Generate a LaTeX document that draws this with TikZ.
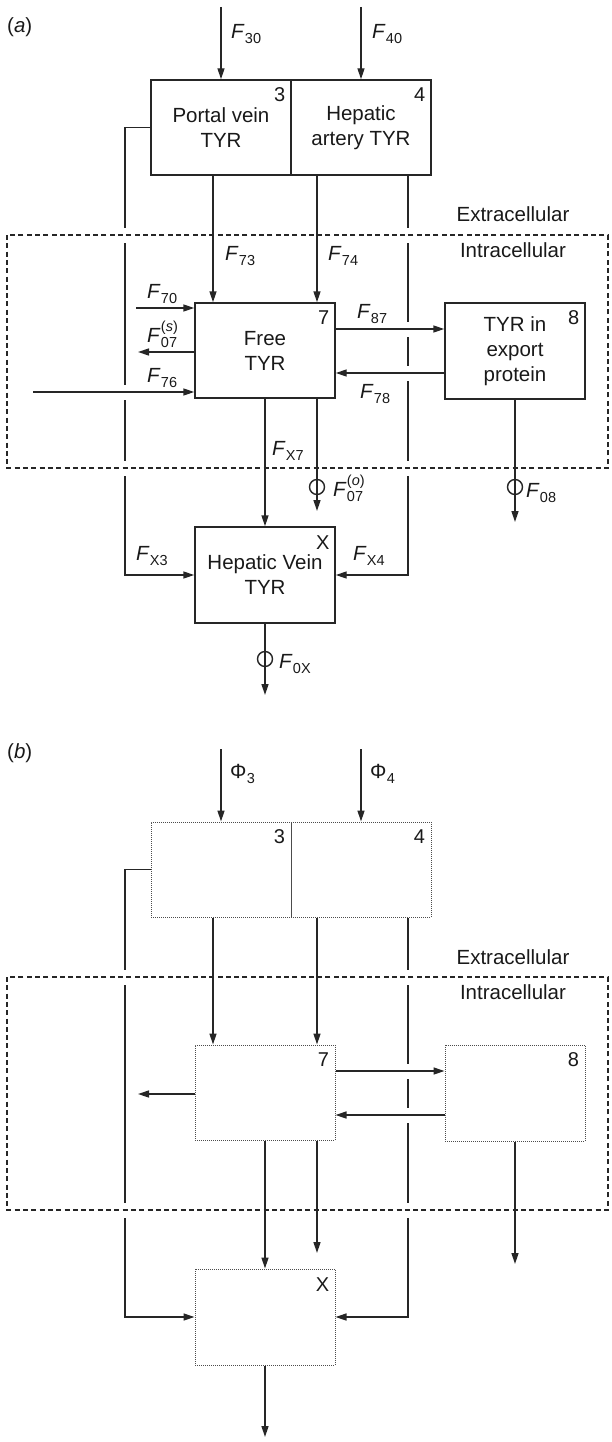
\documentclass[tikz,border=0pt]{standalone}
\usepackage{fontspec}
\setmainfont{Liberation Sans}
\usetikzlibrary{arrows.meta,calc}
\newcommand{\myF}[1]{\textit{F}\kern0.3pt\raisebox{-5pt}{\fontsize{14.5}{14.5}\selectfont #1}}
\newcommand{\myFs}[2]{\textit{F}\kern0.3pt\rlap{\raisebox{11pt}{\fontsize{14.5}{14.5}\selectfont #2}}\raisebox{-5pt}{\fontsize{14.5}{14.5}\selectfont #1}}
\newcommand{\myPhi}[1]{Φ\kern0.3pt\raisebox{-5pt}{\fontsize{14.5}{14.5}\selectfont #1}}
\tikzset{
  ln/.style={draw=black!85, line width=1.45pt},
  arr/.style={ln, -{Triangle[length=11pt,width=7pt]}},
  boxa/.style={draw=black!85, line width=1.45pt, rectangle, inner sep=0pt, align=center, text=black!90, font=\fontsize{20.5}{25}\selectfont},
  boxb/.style={draw=black!70, line width=1pt, dash pattern=on 1pt off 1pt, rectangle, inner sep=0pt},
  num/.style={font=\fontsize{20}{20}\selectfont, inner sep=0pt, text=black!90},
  lab/.style={font=\fontsize{20.5}{24}\selectfont, inner sep=0pt, anchor=base west, text=black!90},
  zone/.style={font=\fontsize{20.5}{24}\selectfont, inner sep=0pt, anchor=base, text=black!90},
  region/.style={draw=black!85, line width=1.2pt, dash pattern=on 5pt off 3.3pt},
  knock/.style={draw=white, line width=5pt},
  ring/.style={draw=black!85, line width=1.45pt, circle, minimum size=15pt, inner sep=0pt},
}
\begin{document}
\begin{tikzpicture}[x=1pt,y=-1pt]
\useasboundingbox (0,0) rectangle (611,1442);

% ================= (a) =================
\node[lab] (alab) at (7,33) {(\textit{a})};
\node[boxa, minimum width=140pt, minimum height=95pt] (a3) at (221,127.5) {Portal vein\\TYR};
\node[boxa, minimum width=140pt, minimum height=95pt] (a4) at (361,127.5) {Hepatic\\artery TYR};
\node[boxa, minimum width=140pt, minimum height=95pt] (a7) at (265,350.5) {Free\\TYR};
\node[boxa, minimum width=140pt, minimum height=96pt] (a8) at (515,351) {TYR in\\export\\protein};
\node[boxa, minimum width=140pt, minimum height=96pt] (aX) at (265,575) {Hepatic Vein\\TYR};
\node[num] (an3) at ($(a3.north east)+(-12,15)$) {3};
\node[num] (an4) at ($(a4.north east)+(-12,15)$) {4};
\node[num] (an7) at ($(a7.north east)+(-12,15)$) {7};
\node[num] (an8) at ($(a8.north east)+(-12,15)$) {8};
\node[num] (anX) at ($(aX.north east)+(-13,16)$) {X};

\coordinate (ax73) at (213,0);
\coordinate (ax74) at (317,0);
\coordinate (aS30) at (221,7);
\coordinate (aS40) at (361,7);
\coordinate (aL1) at (125,127.5);
\coordinate (aL2) at (125,575);
\coordinate (aR1) at (408,575);
\coordinate (aS70) at (136,308);
\coordinate (aE07s) at (138,352);
\coordinate (aS76) at (33,392);
\coordinate (ay87) at (0,329);
\coordinate (ay78) at (0,373);
\coordinate (aE07) at (317,511);
\coordinate (aE08) at (515,522);
\coordinate (aE0X) at (265,695);

% bypass lines with gaps at crossings
\draw[arr] (a3.west) -- (aL1) -- (aL2) -- (aX.west);
\draw[arr] (a4.south -| aR1) -- (aR1) -- (aX.east);
\foreach \yy in {235,392,468} \draw[knock] (125,\yy-7.5) -- (125,\yy+7.5);
\foreach \yy in {235,329,373,468} \draw[knock] (408,\yy-7.5) -- (408,\yy+7.5);

\draw[region] (7,235) rectangle (608,468);
\node[zone] (aext) at (513,222) {Extracellular};
\node[zone] (aint) at (513,257) {Intracellular};

\draw[arr] (aS30) -- (a3.north);
\draw[arr] (aS40) -- (a4.north);
\draw[arr] (a3.south -| ax73) -- (a7.north -| ax73);
\draw[arr] (a4.south -| ax74) -- (a7.north -| ax74);
\draw[arr] (aS70) -- (aS70 -| a7.west);
\draw[arr] (aE07s -| a7.west) -- (aE07s);
\draw[arr] (aS76) -- (aS76 -| a7.west);
\draw[arr] (a7.east |- ay87) -- (a8.west |- ay87);
\draw[arr] (a8.west |- ay78) -- (a7.east |- ay78);
\draw[arr] (a7.south) -- (aX.north);
\draw[arr] (a7.south -| ax74) -- (aE07);
\draw[arr] (a8.south) -- (aE08);
\draw[arr] (aX.south) -- (aE0X);
\node[ring] (ar07) at (317,487) {};
\node[ring] (ar08) at (515,487) {};
\node[ring] (ar0X) at (265,659) {};

\node[lab] (lF30) at (231,39) {\myF{30}};
\node[lab] (lF40) at (372,39) {\myF{40}};
\node[lab] (lF73) at (225,260) {\myF{73}};
\node[lab] (lF74) at (328,260) {\myF{74}};
\node[lab] (lF70) at (147,298) {\myF{70}};
\node[lab] (lF07s) at (147,342) {\myFs{07}{(\textit{s})}};
\node[lab] (lF76) at (147,382) {\myF{76}};
\node[lab] (lF87) at (357,318) {\myF{87}};
\node[lab] (lF78) at (360,398) {\myF{78}};
\node[lab] (lFX7) at (272,455) {\myF{X7}};
\node[lab] (lF07o) at (333,496) {\myFs{07}{(\textit{o})}};
\node[lab] (lF08) at (526,497) {\myF{08}};
\node[lab] (lF0X) at (279,668) {\myF{0X}};
\node[lab] (lFX3) at (136,560) {\myF{X3}};
\node[lab] (lFX4) at (353,560) {\myF{X4}};

% ================= (b) =================
\node[lab] (blab) at (7,758) {(\textit{b})};
\node[boxb, minimum width=140pt, minimum height=95pt] (b3) at (221,869.5) {};
\node[boxb, minimum width=140pt, minimum height=95pt] (b4) at (361,869.5) {};
\node[boxb, minimum width=140pt, minimum height=95pt] (b7) at (265,1092.5) {};
\node[boxb, minimum width=140pt, minimum height=96pt] (b8) at (515,1093) {};
\node[boxb, minimum width=140pt, minimum height=96pt] (bX) at (265,1317) {};
\node[num] (bn3) at ($(b3.north east)+(-12,15)$) {3};
\node[num] (bn4) at ($(b4.north east)+(-12,15)$) {4};
\node[num] (bn7) at ($(b7.north east)+(-12,15)$) {7};
\node[num] (bn8) at ($(b8.north east)+(-12,15)$) {8};
\node[num] (bnX) at ($(bX.north east)+(-13,16)$) {X};

\coordinate (bx73) at (213,0);
\coordinate (bx74) at (317,0);
\coordinate (bS30) at (221,749);
\coordinate (bS40) at (361,749);
\coordinate (bL1) at (125,869.5);
\coordinate (bL2) at (125,1317);
\coordinate (bR1) at (408,1317);
\coordinate (bE07s) at (138,1094);
\coordinate (by87) at (0,1071);
\coordinate (by78) at (0,1115);
\coordinate (bE07) at (317,1253);
\coordinate (bE08) at (515,1264);
\coordinate (bE0X) at (265,1437);

\draw[arr] (b3.west) -- (bL1) -- (bL2) -- (bX.west);
\draw[arr] (b4.south -| bR1) -- (bR1) -- (bX.east);
\foreach \yy in {977,1210} \draw[knock] (125,\yy-7.5) -- (125,\yy+7.5);
\foreach \yy in {977,1071,1115,1210} \draw[knock] (408,\yy-7.5) -- (408,\yy+7.5);

\draw[region] (7,977) rectangle (608,1210);
\node[zone] (bext) at (513,964) {Extracellular};
\node[zone] (bint) at (513,999) {Intracellular};

\draw[arr] (bS30) -- (b3.north);
\draw[arr] (bS40) -- (b4.north);
\draw[arr] (b3.south -| bx73) -- (b7.north -| bx73);
\draw[arr] (b4.south -| bx74) -- (b7.north -| bx74);
\draw[arr] (bE07s -| b7.west) -- (bE07s);
\draw[arr] (b7.east |- by87) -- (b8.west |- by87);
\draw[arr] (b8.west |- by78) -- (b7.east |- by78);
\draw[arr] (b7.south) -- (bX.north);
\draw[arr] (b7.south -| bx74) -- (bE07);
\draw[arr] (b8.south) -- (bE08);
\draw[arr] (bX.south) -- (bE0X);

\node[lab] (lP3) at (230,778) {\myPhi{3}};
\node[lab] (lP4) at (370,778) {\myPhi{4}};
\end{tikzpicture}
\end{document}
